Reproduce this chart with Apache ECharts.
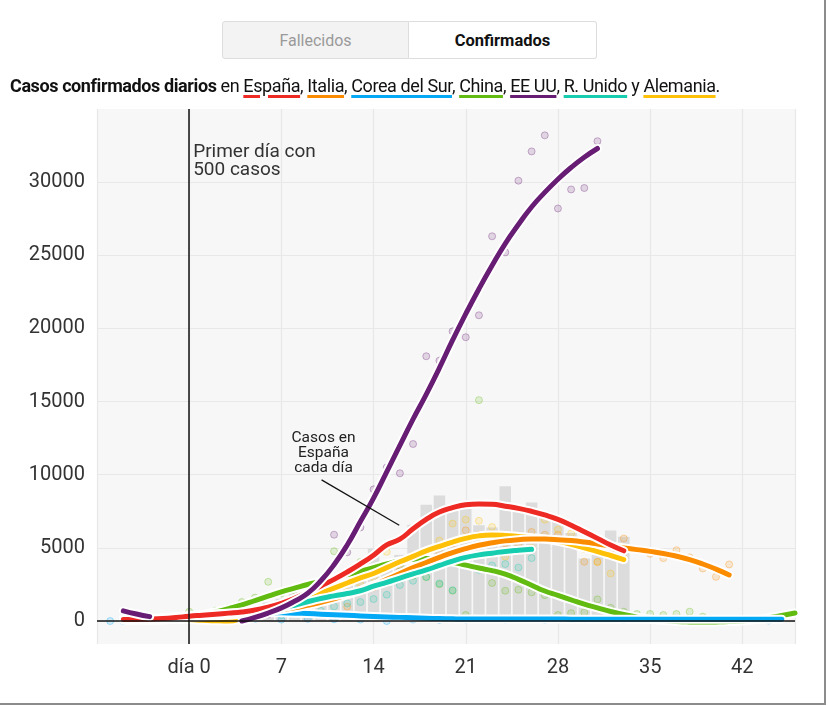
<!DOCTYPE html>
<html><head><meta charset="utf-8">
<script src="https://cdn.jsdelivr.net/npm/echarts@6/dist/echarts.min.js"></script>
<style>
html,body{margin:0;padding:0;background:#fff;}
body{width:829px;height:706px;position:relative;overflow:hidden;font-family:Roboto,"Noto Sans",sans-serif;}
#chart{position:absolute;left:0;top:0;width:829px;height:706px;}
.frame{position:absolute;left:0;top:0;width:824px;height:703px;border-right:2px solid #8c8c8c;border-bottom:2px solid #8c8c8c;pointer-events:none;}
.tabs{position:absolute;top:21px;left:222px;display:flex;}
.tab{height:38px;line-height:38px;text-align:center;border:1px solid #dddddd;box-sizing:border-box;}
.tab1{width:187px;background:#f3f3f3;color:#9a9a9a;font-size:16px;border-radius:3px 0 0 3px;}
.tab2{width:188px;background:#fff;color:#111;font-size:16.5px;font-weight:bold;border-left:none;border-radius:0 3px 3px 0;}
.sub{position:absolute;left:10px;top:75px;font-size:18px;color:#111;white-space:nowrap;letter-spacing:-0.4px;}
.sub b{font-weight:bold;}
.sub span{text-decoration:underline;text-decoration-thickness:3px;text-underline-offset:3px;}
</style>
</head>
<body>
<div id="chart"></div>
<div class="tabs"><div class="tab tab1">Fallecidos</div><div class="tab tab2">Confirmados</div></div>
<div class="sub"><b>Casos confirmados diarios</b> en <span style="text-decoration-color:#ee2a24">España</span>, <span style="text-decoration-color:#fb8c00">Italia</span>, <span style="text-decoration-color:#03a9f4">Corea del Sur</span>, <span style="text-decoration-color:#62bb11">China</span>, <span style="text-decoration-color:#681d74">EE UU</span>, <span style="text-decoration-color:#17cdb0">R. Unido</span> y <span style="text-decoration-color:#ffc107">Alemania</span>.</div>
<div class="frame"></div>
<script>
// ---------- DATA ----------
const lineStartDay = -5;
// Spain daily confirmed cases (grey bars), day 0..33
const spainBars = [120,160,430,590,560,870,1270,1520,2000,1440,1990,2540,3430,2830,4950,3650,4520,6580,7940,8580,7870,8190,6550,6400,9220,7720,8100,7470,7030,6020,4270,4600,6180,5760];
// Smoothed curves, starting at day -5
const spainLine = [100,110,130,170,240,330,400,470,540,620,750,950,1200,1550,1950,2400,2850,3350,3900,4500,5200,5600,6300,6950,7450,7750,7950,8000,7980,7850,7700,7500,7250,6950,6550,6100,5650,5200,4800];
const italyLine = [100,120,150,180,220,260,300,350,400,460,540,640,760,900,1080,1280,1520,1800,2100,2450,2850,3250,3650,4000,4350,4680,4950,5180,5350,5480,5560,5610,5600,5560,5500,5400,5270,5130,5000,4880,4760,4620,4430,4200,3900,3550,3150];
const koreaLine = [120,140,170,220,290,370,440,500,540,560,570,570,560,540,510,470,430,390,350,310,280,250,220,190,170,150,140,140,140,135,135,135,135,135,130,130,130,130,130,130,130,130,130,130,130,130,130,130,130,130,130];
const chinaLine = [60,50,50,70,130,250,420,620,850,1100,1400,1700,2000,2250,2500,2720,2950,3170,3400,3650,3900,4100,4230,4280,4200,4020,3820,3620,3450,3200,2850,2450,2050,1750,1450,1150,900,650,450,260,120,30,-30,-60,-70,-60,-40,0,100,230,380,550];
const usLine = [700,480,300,null,null,null,null,null,null,0,250,550,900,1350,1900,2750,3850,5200,6800,8400,10200,12000,13800,15500,17300,19200,21000,22700,24300,25800,27100,28300,29300,30200,31000,31700,32300];
const ukLine = [120,130,150,190,250,320,370,420,470,520,600,730,880,1080,1320,1540,1720,1880,2070,2380,2650,2940,3220,3490,3800,4100,4350,4520,4640,4760,4840,4900];
const germanyLine = [200,180,160,140,120,100,60,20,0,180,450,730,1030,1320,1620,1930,2250,2600,2950,3250,3650,4050,4420,4800,5100,5400,5650,5820,5880,5850,5780,5700,5600,5450,5250,5000,4750,4480,4200];
// Daily values (faint dots), [day, cases]
const italyDots = [[5,600],[8,1000],[10,1200],[12,980],[13,2200],[14,2300],[15,2600],[16,3500],[17,3600],[18,4200],[19,4700],[20,5300],[21,6200],[22,5900],[23,5600],[24,5300],[25,5200],[26,6090],[27,5900],[28,5900],[29,5200],[30,4050],[31,4050],[32,4800],[33,5640],[34,4840],[35,4600],[36,4300],[37,4840],[38,4350],[39,3590],[40,3020],[41,3870]];
const koreaDots = [[-6,0],[-5,0],[-4,50],[-3,100],[-2,150],[-1,200],[0,250],[2,0],[3,200],[5,150],[7,100],[9,150],[11,120],[13,100],[15,0],[17,100],[19,80],[21,90],[24,100],[27,80],[30,100],[33,80],[36,60],[39,50],[42,40],[44,30]];
const chinaDots = [[-2,100],[-1,200],[0,640],[1,300],[2,700],[3,900],[4,1300],[5,1600],[6,2680],[7,1900],[8,2100],[9,2400],[10,2600],[11,4770],[12,3000],[13,4040],[14,3300],[15,3700],[16,3800],[17,3100],[18,3000],[19,2520],[20,2070],[21,410],[22,15100],[23,2600],[24,2070],[25,2140],[26,1960],[27,1770],[28,410],[29,540],[30,590],[31,1480],[32,900],[33,640],[34,480],[35,480],[36,410],[37,480],[38,640],[39,300],[40,150],[41,100]];
const usDots = [[4,250],[5,350],[6,450],[7,550],[8,800],[9,1100],[10,1800],[11,5900],[12,4700],[13,6400],[14,9000],[15,10500],[16,10100],[17,12100],[18,18100],[19,17800],[20,19800],[21,19400],[22,20900],[23,26300],[24,25200],[25,30100],[26,32100],[27,33200],[28,28200],[29,29500],[30,29600],[31,32800]];
const ukDots = [[0,100],[3,200],[5,300],[7,400],[9,600],[10,700],[11,1000],[12,1200],[13,1300],[14,1500],[15,1800],[16,2460],[17,2750],[18,3020],[19,2570],[20,2110],[21,4430],[22,3500],[23,3800],[24,3890],[25,3660],[26,4300]];
const germanyDots = [[5,300],[8,1000],[10,1400],[12,2000],[13,2500],[14,3000],[15,4730],[16,4000],[17,4500],[18,4800],[19,5500],[20,6660],[21,6930],[22,6850],[23,6430],[24,4400],[25,4800],[26,5000],[27,6930],[28,6250],[29,5980],[30,4930],[31,4030],[32,3250],[33,4300]];
const yTicks = [0,5000,10000,15000,20000,25000,30000];

// ---------- CHART ----------
const COLORS = {spain:'#ee2a24', italy:'#fb8c00', korea:'#03a9f4', china:'#62bb11', us:'#681d74', uk:'#17cdb0', germany:'#ffc107'};
function rgba(hex,a){const n=parseInt(hex.slice(1),16);return `rgba(${n>>16&255},${n>>8&255},${n&255},${a})`;}
function toPairs(arr,start){return arr.map((v,i)=>[start+i,v]);}

const chart = echarts.init(document.getElementById('chart'));
const series = [];
series.push({
  type:'bar', name:'spainBars', data:toPairs(spainBars,0), barWidth:11.5,
  itemStyle:{color:'#dcdcdc'}, silent:true,
  markLine:{silent:true, symbol:'none', label:{show:false}, animation:false,
    data:[{xAxis:0, lineStyle:{color:'#111',width:1.5,type:'solid'}},{yAxis:0, lineStyle:{color:'#111',width:1.5,type:'solid'}}]}
});
const dotSets = [['korea',koreaDots],['china',chinaDots],['italy',italyDots],['germany',germanyDots],['uk',ukDots],['us',usDots]];
dotSets.forEach(([k,d])=>{
  series.push({type:'scatter', data:d, symbolSize:7, silent:true,
    itemStyle:{color:rgba(COLORS[k],0.2), borderColor:rgba(COLORS[k],0.4), borderWidth:1}});
});
const lines = [['china',chinaLine],['korea',koreaLine],['germany',germanyLine],['italy',italyLine],['uk',ukLine],['spain',spainLine],['us',usLine]];
lines.forEach(([k,d])=>{
  const data = toPairs(d,lineStartDay);
  series.push({type:'line', data, smooth:0.5, showSymbol:false, silent:true, connectNulls:false,
    lineStyle:{color:'#ffffff', width:9, cap:'round', join:'round'}});
  series.push({type:'line', data, smooth:0.5, showSymbol:false, silent:true, connectNulls:false,
    lineStyle:{color:COLORS[k], width:5, cap:'round', join:'round'}});
});

const labelFont = {fontFamily:'Roboto, "Noto Sans", sans-serif', fontSize:20, color:'#333'};
chart.setOption({
  animation:false,
  grid:{left:97, right:34, top:109, bottom:62, show:true, backgroundColor:'#f7f7f7', borderWidth:0},
  xAxis:{type:'value', min:-7, max:46, interval:7,
    axisLine:{show:false}, axisTick:{show:false},
    splitLine:{show:true, lineStyle:{color:'#e8e8e8', width:1.2}},
    axisLabel:Object.assign({margin:14, formatter:v=>v===0?'día 0':(v>0&&v%7===0?String(v):'')}, labelFont)},
  yAxis:{type:'value', min:-1570, max:35000,
    axisLine:{show:false}, axisTick:{show:false, customValues:yTicks},
    splitLine:{show:true, lineStyle:{color:'#e8e8e8', width:1.2}},
    axisLabel:Object.assign({margin:12, customValues:yTicks, formatter:v=>String(v)}, labelFont)},
  series
});

// annotations positioned from data coordinates
const px = p => chart.convertToPixel({gridIndex:0}, p);
const t1 = px([0.3, 32700]);
const t2 = px([10.2, 13000]);
const l1 = px([10.05, 9650]);
const l2 = px([15.95, 6550]);
chart.setOption({graphic:[
  {type:'text', left:t1[0], top:t1[1], z:100, style:{text:'Primer día con\n500 casos', font:'19px Roboto, "Noto Sans", sans-serif', fill:'#333', lineHeight:18}},
  {type:'text', x:t2[0], y:t2[1], z:100, style:{text:'Casos en\nEspaña\ncada día', font:'15.5px Roboto, "Noto Sans", sans-serif', fill:'#222', lineHeight:15, align:'center', verticalAlign:'top'}},
  {type:'line', z:100, shape:{x1:l1[0], y1:l1[1], x2:l2[0], y2:l2[1]}, style:{stroke:'#111', lineWidth:1.2}}
]});
</script>
</body></html>
